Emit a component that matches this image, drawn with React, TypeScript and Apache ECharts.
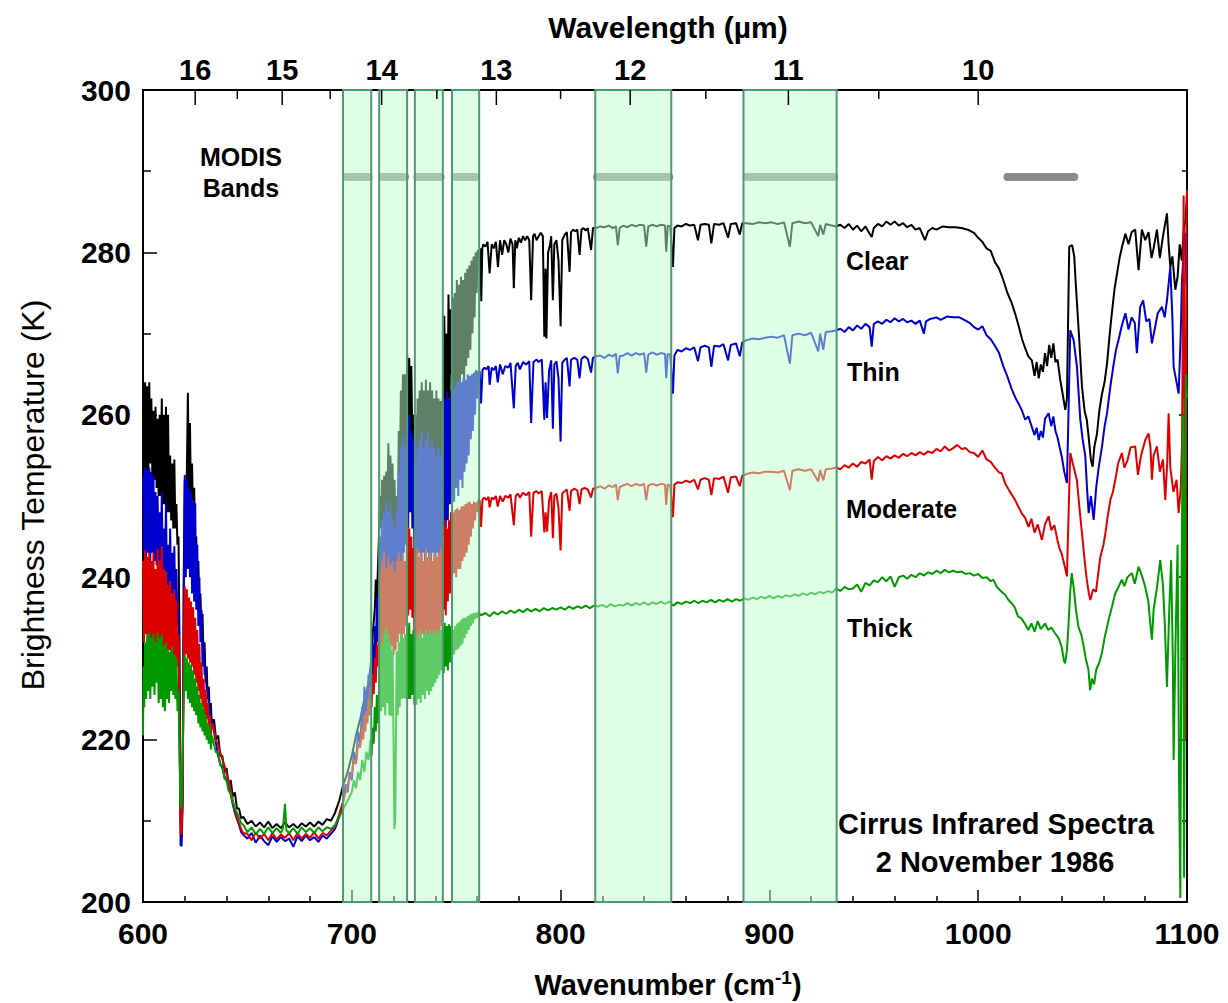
import React, { useEffect, useRef } from "react";
import * as echarts from "echarts";

const FONT = '"Liberation Sans", Arial, Helvetica, sans-serif';

// Wavenumber (cm-1), brightness temperature (K) pairs, flattened
const clearFlat = [
600,262, 600.5,252, 601,264, 601.5,253, 602,263.5, 602.5,252, 603,264, 603.5,254, 604,262, 604.5,252, 605,260.5, 605.5,252, 606,261, 606.5,251, 607,259.5, 607.5,250, 608,260, 608.5,250, 609,262, 609.5,249, 610,260, 610.5,249, 611,261, 611.5,248, 612,260, 612.5,248, 613,255, 613.5,247, 614,254, 614.5,246, 615,254.5, 615.5,246, 616,249, 616.5,244, 617,245, 617.5,232, 618,210, 618.5,208, 619,215, 619.5,240, 620,252, 620.5,246, 621,253, 621.5,262.7, 622,250, 622.5,259, 623,248, 623.5,254, 624,246, 624.5,251, 625,244, 625.5,245, 626,238, 626.5,242, 627,236, 627.5,238, 628,233, 628.5,235.5, 629,230, 629.5,232, 630,227, 630.5,229, 631,225, 631.5,226.5, 632,223, 632.5,224.5, 633,221.5, 634,222.5, 635,220, 636,220.5, 637,218, 638,218, 639,216, 640,216.5, 641,214.5, 642,215, 643,213, 644,213.5, 645,211.5, 646,211.5, 647,210.3, 648,210.5, 650,209.6, 652,210, 654,209.3, 656,209.8, 658,209.2, 660,209.9, 662,209.1, 664,209.6, 666,209.1, 668,209.8, 670,209.2, 672,209.6, 674,209.1, 676,209.7, 678,209.3, 680,209.8, 682,209.3, 684,209.9, 686,209.5, 688,210.2, 690,210, 692,211, 694,212.5, 696,214.5, 698,216, 700,218, 702,220.5, 704,222.5, 706,225, 708,227, 709,229, 710,233, 711,236, 711.5,239.7, 712,237, 712.5,241,
713,245, 713.5,250, 714,246, 714.5,252, 715,247, 715.5,252.5, 716,247, 716.5,253, 717,248, 717.5,256.5, 718,248, 718.5,255, 719,247, 719.5,254, 720,246, 720.5,252, 721,244, 721.5,250, 722,247, 722.5,258, 723,252, 723.5,263, 724,254, 724.5,265, 725,255, 725.5,265, 726,256, 726.5,267.4, 727,258, 727.5,267, 728,258, 728.5,266, 729,257, 729.5,260, 730,252,
730.5,260, 731,252, 731.5,262, 732,253, 732.5,263, 733,252, 733.5,264, 734,253, 734.5,263, 735,252, 735.5,264.3, 736,253, 736.5,263, 737,252, 737.5,264, 738,253, 738.5,263, 739,251, 739.5,262, 740,252, 740.5,263, 741,251, 741.5,262, 742,252, 742.5,261.7, 743,251, 743.5,262,
744,255, 744.3,272.2, 744.8,258, 745.3,270, 745.8,256, 746.3,274.8, 746.8,262, 747.3,273, 747.8,265,
748.3,274.4, 748.8,263, 749.3,275, 749.8,262, 750.3,276.6, 750.8,264, 751.3,276, 751.8,263, 752.3,277, 752.8,265, 753.3,276.6, 753.8,264, 754.3,277.5, 754.8,266, 755.3,278, 755.8,267, 756.3,278.4, 756.8,268, 757.3,279, 757.8,270, 758.3,279.5, 758.8,272, 759.3,280, 759.8,275, 760.3,280.3, 760.8,279,
761.5,280.5, 762,274, 762.5,280.5, 763,281, 764,280.7, 765,281.3, 766,277.4, 767,281, 768,280.5, 769,281.3, 770,278.2, 771,281.5, 772,279.7, 773,281.5, 774,281, 775,280, 776,281.7, 777,281, 777.6,275.6, 778.3,281.5, 779,280.5, 780,281.8, 781,281.2, 782,282, 783,281.5, 784,282, 785,281.5, 785.9,274.1, 786.8,282, 787.5,282.3, 788.5,281.5, 789.5,282, 790.5,282.4, 791.5,282, 792.2,269.6, 792.8,278, 793.2,269.4, 794,280, 795,281, 795.5,282, 796.3,274.1, 797,281, 798,281.5, 799,279, 800,270.9, 800.8,281.5, 802,282.2, 803,282.5, 804.3,277.6, 805,282.5, 806,282.8, 807,282.6, 808,282.8, 809.1,279.7, 810,282.8, 811,283, 812,282.7, 813,283, 814.6,280.3, 815.5,283,
817,283, 819,283.2, 821,283.1, 823,283.3, 825,283, 826.5,283.2, 827.4,280.9, 828.3,283, 830,283.3, 832,283.1, 834,283.4, 836,283.2, 838,283.4, 840,283.3, 841,280.7, 842,283.2, 844,283.4, 846,283.2, 848,283.4, 850,283.3, 850.6,280.1, 851.3,283.3, 852.5,283.2, 853.8,278.2, 854.5,283, 856,283.3, 858,283.2, 860,283.5, 862,283.3, 864,283.4, 865.8,281.5, 867,283.4, 869,283.5, 871,283.4, 872.2,281.1, 873.5,283.5, 876,283.4, 878,283.6, 880.2,281.8, 881.5,283.5, 884,283.6, 885.8,282.2, 887,283.6,
889,283.6, 892,283.5, 895,283.7, 898,283.6, 901,283.7, 904,283.5, 907,283.7, 909.8,280.7, 911,283.6, 914,283.8, 917,283.6, 920,283.7, 923.4,282, 924.3,283.4, 925.8,282.2, 927,283.5, 930,283.3, 932,283.2,
934,283.4, 936,283, 938,283.5, 940,282.8, 942,283.3, 944,282.6, 946,283.2, 948,282.3, 949,281.9, 950,283, 952,283.5, 954,283.2, 956,283.8, 958,283.4, 960,283.8, 962,283.3, 964,283.6, 966,283.1, 968,283.4, 970,282.8, 972,283, 974.5,281.5, 976,282.6, 978,283, 980,282.8, 983,283.2, 986,283.1, 989,283.1, 992,283, 995,282.8, 998,282.4, 1000,281.8, 1002,281.3, 1004,280.5, 1006,280.2, 1008,278.8, 1010,278, 1012,276.6, 1014,275, 1016,273.8, 1018,272.2, 1019.5,270.8, 1021,269.3, 1022.5,268.2, 1024,267.2, 1025.7,266.7, 1027,264.8, 1028,266.5, 1029,264.5, 1030,266.2, 1031,265.3, 1032,267.6, 1033,266, 1034,268.6, 1035,267, 1036,268.8, 1037,266.5, 1038,266.8, 1039.3,264.3, 1040.5,262.5, 1041.7,260.6, 1042.5,262, 1043.2,274, 1043.6,280.7, 1045,280.9, 1046,279.5, 1046.8,275.8, 1048.1,270.5, 1049.7,263.5, 1051,260.4, 1052,259.4, 1053,257, 1054,254.4, 1054.8,253.6, 1055.6,256, 1056.9,257.7, 1058,260.5, 1059.3,262.6, 1060.5,264, 1061.7,266.3, 1063,270, 1064,272.5, 1065.3,275.5, 1066.5,277.4, 1067.7,279.3, 1068.9,280.7, 1070.5,282.3, 1072,281, 1073.5,282.5, 1075.2,282.8, 1076.8,277.8, 1078.4,282.8, 1080,281.5, 1081.6,282.5, 1083,279.3, 1084,280.5, 1085.6,282.8, 1087,279.3, 1088.5,282, 1090.4,284.8, 1091.2,281, 1092,278.2, 1093,279.5, 1094.4,275.4, 1095.5,277, 1096.5,281, 1097.5,279, 1098.5,283, 1099.3,284, 1100,287,
];

const thinFlat = [
600,252.5, 600.5,243, 601,253.5, 601.5,242, 602,253, 602.5,243, 603,253.5, 603.5,242, 604,253, 604.5,243, 605,252.5, 605.5,242, 606,250.5, 606.5,241.5, 607,250, 607.5,242, 608,248, 608.5,241, 609,250.4, 609.5,240, 610,246, 610.5,240, 611,249, 611.5,239, 612,244, 612.5,238, 613,246, 613.5,238, 614,243, 614.5,237, 615,243.8, 615.5,236, 616,241, 616.5,234, 617,236, 617.5,222, 618,207, 618.5,206.9, 619,212, 619.5,236, 620,252.6, 620.5,240, 621,252, 621.5,241, 622,251, 622.5,240, 623,250.5, 623.5,238, 624,249.5, 624.5,237, 625,249.1, 625.5,236, 626,244, 626.5,234, 627,240, 627.5,232, 628,236, 628.5,229, 629,232, 629.5,228, 630,229, 630.5,226, 631,226.5, 631.5,224, 632,224, 632.5,222.5, 633,222.5, 634,221, 635,219.5, 636,218, 637,217, 638,216.5, 639,215.5, 640,215, 641,214.5, 642,213.3, 643,212, 644,211, 645,210.2, 646,209.5, 647,208.6, 648,208.3, 650,207.8, 652,208.5, 654,207.3, 656,208.2, 658,207.5, 660,207, 662,208.1, 664,207.4, 666,208, 668,207.5, 670,207.8, 672,206.8, 674,208.1, 676,207.5, 678,208.2, 680,207.6, 682,208, 684,207.4, 686,208.2, 688,207.8, 690,208.4, 692,209, 694,210.5, 696,212.5, 697,214.5, 698,213.5, 699,216, 700,215, 701,218.5, 702,217, 703,221, 704,219.5, 705,224, 705.5,221, 706,226.5, 706.5,222, 707,226, 707.5,223, 708,228, 708.5,224.5, 709,229, 709.5,226, 710,231.7, 710.5,228, 711,234, 711.5,230, 712,237.5, 712.5,232, 713,239,
713.5,245, 714,239, 714.5,247, 715,240, 715.5,248, 716,239.5, 716.5,249.3, 717,240, 717.5,248, 718,239, 718.5,249, 719,240, 719.5,247, 720,238.5, 720.5,246, 721,239, 721.5,248, 722,240, 722.5,253, 723,241, 723.5,256, 724,242, 724.5,257.3, 725,243, 725.5,256, 726,244, 726.5,258, 727,246, 727.5,260, 728,248, 728.5,258, 729,246, 729.5,257, 730,242,
730.5,254, 731,242, 731.5,256, 732,243, 732.5,257, 733,242, 733.5,258, 734,243, 734.5,256, 735,242, 735.5,257, 736,243, 736.5,258, 737,242.5, 737.5,256, 738,242, 738.5,257, 739,243, 739.5,256, 740,242, 740.5,255, 741,243, 741.5,256, 742,242.5, 742.5,255, 743,243, 743.5,256,
744,245, 744.5,262, 745,246, 745.5,262.9, 746,247, 746.5,262, 747,249, 747.5,263,
748,250, 748.5,263, 749,249.3, 749.5,263.5, 750,251, 750.5,264, 751,250, 751.5,264.3, 752,252, 752.5,264, 753,251, 753.5,264.5, 754,253, 754.5,264.3, 755,254, 755.5,265, 756,255, 756.5,264.8, 757,257, 757.5,265, 758,258, 758.5,265.2, 759,260, 759.5,265.5, 760,262, 760.5,265.3,
761.2,265.4, 761.9,261.4, 762.6,265.5, 763.5,265.8, 764.5,265.6, 765.5,266, 766,263.7, 767,265.8, 768,265.5, 769,266, 769.9,264, 771,266.2, 772.3,265, 773.5,266, 775,265.8, 776,266.4, 777.6,260.8, 778.5,266, 779.5,266.4, 780.5,265.6, 782,266.5, 783.5,266.2, 785,266.6, 785.9,259, 787,266.5, 788.5,266.8, 789.5,266.5, 791,266.8, 792.2,259.4, 792.8,264, 793.5,259.6, 794.5,265.5, 795.5,266.7, 796.3,258.3, 797,266.2, 798,266.6, 799,264.5, 800,256.7, 800.8,266.4, 802,266.8, 803,267, 804.3,263.5, 805,266.8, 806.5,267, 808,266.8, 809.1,264.5, 810,266.9, 811.5,267.2, 813,266.9, 814.6,265.2, 815.5,267,
817,267.2, 819,267.3, 821,267, 823,267.4, 825,267.2, 826.5,267.5, 827.4,265.1, 828.3,267.2, 830,267.3, 832,267.6, 834,267.3, 836,267.6, 838,267.4, 840,267.6, 841,265.2, 842,267.4, 844,267.7, 846,267.4, 848,267.6, 850,267.5, 850.6,264.5, 851.3,267.5, 852.5,267.4, 853.8,262.6, 854.5,267.3, 856,268, 858,267.8, 860,268.2, 862,268, 864,268.3, 865.8,266.6, 867,268.3, 869,268.5, 871,268.3, 872.2,265.9, 873.5,268.5, 876,268.4, 878,268.7, 880.2,266.7, 881.5,268.6, 884,268.8, 885.8,267.2, 887,268.9,
889,269.2, 892,269.4, 895,269.3, 898,269.5, 901,269.6, 904,269.5, 907,269.8, 909.8,266.3, 911,269.8, 914,270, 917,269.8, 920,270.1, 923.4,267.8, 924.3,270, 925.8,268, 927,270.2, 930,270.3, 932,270.4,
934,270.6, 936,270.2, 938,270.8, 940,270.4, 942,271, 944,270.6, 946,271.2, 948,270.8, 949,268.4, 950,271.2, 952,271.5, 954,271.2, 956,271.7, 958,271.4, 960,271.9, 962,271.5, 964,271.8, 966,271.4, 968,271.6, 970,271.2, 972,271.6, 974,270, 975,271.5, 977,271.8, 980,272, 982,271.7, 985,272.1, 988,272, 991,272, 994,271.6, 996,271.3, 998,270.8, 1000,270.5, 1002,270.9, 1004,269.8, 1006,269.3, 1008,268.5, 1010,267.6, 1012,266, 1014,264.7, 1016,263.2, 1018,262, 1019.3,261.4, 1021,260.5, 1022.5,259.4, 1024,259.8, 1025.7,258.5, 1027,257.5, 1028,258.4, 1029,256.9, 1030,258, 1031,257.2, 1032,259.5, 1033.7,260.2, 1035,258.6, 1036,259.8, 1037,258, 1038,257.2, 1039,256, 1040,254.9, 1041.2,253, 1042.5,251.6, 1043.4,262, 1044.1,270.4, 1045.7,269.2, 1047.3,265.9, 1048.9,259.4, 1050,257, 1051.3,254.9, 1052.1,251, 1052.9,247.9, 1054,250, 1055.3,247.05, 1056.5,251, 1057.7,253.5, 1059.3,256.1, 1060.5,258.5, 1061.7,260.2, 1063.3,263.5, 1064.9,266.3, 1066,268, 1067.2,269.2, 1068.8,271, 1070.5,272.5, 1072,270.5, 1073.5,272, 1075,271.3, 1076,267.6, 1077.6,273.3, 1079,274.1, 1080.5,271.5, 1082,271.8, 1083.2,268.8, 1084.5,270.5, 1086,272.5, 1088,273.3, 1089.3,272, 1090.4,274.1, 1092,278.2, 1093,272, 1093.6,265.9, 1095,264, 1096,262.6, 1097,270, 1097.6,276.6, 1098.4,280, 1099.2,282.4, 1099.7,276, 1100,280,
];

const moderateFlat = [
600,242, 600.5,232, 601,243.3, 601.5,233, 602,242.5, 602.5,232, 603,243, 603.5,232.5, 604,242, 604.5,232, 605,243, 605.5,231.5, 606,241, 606.5,232, 607,243.5, 607.5,232, 608,242, 608.5,231.5, 609,243.8, 609.5,231, 610,241, 610.5,231.5, 611,240.7, 611.5,231, 612,239, 612.5,231, 613,239.5, 613.5,230.5, 614,238, 614.5,230, 615,238.5, 615.5,230, 616,237.1, 616.5,229, 617,233, 617.5,222, 618,208.4, 618.5,208.4, 619,214, 619.5,232, 620,238.9, 620.5,230.5, 621,238.5, 621.5,230, 622,237.5, 622.5,229.5, 623,237, 623.5,229, 624,236.3, 624.5,228, 625,235, 625.5,227, 626,233.5, 626.5,226, 627,231.8, 627.5,225, 628,229.5, 628.5,224, 629,227.5, 629.5,223, 630,226.1, 630.5,222.5, 631,224.5, 631.5,221.5, 632,223, 632.5,220.5, 633,222, 634,221.3, 635,219.8, 636,219.4, 637,218.4, 638,217.6, 639,216.8, 640,215.8, 641,215, 642,213.8, 643,212.5, 644,211.3, 645,210.5, 646,209.7, 647,209, 648,208.5, 650,208.4, 652,207.6, 654,208.6, 656,207.8, 658,208.4, 660,207.6, 662,208.5, 664,207.7, 666,208.3, 668,207.9, 670,208.5, 672,207.6, 674,208.5, 676,207.8, 678,208.4, 680,207.9, 682,208.6, 684,207.8, 686,208.5, 688,208.2, 690,208.8, 692,209.3, 694,210.8, 696,212.5, 697,213.5, 698,214.5, 699,215.2, 700,215.8, 701,217.5, 702,217, 703,219.5, 704,219, 705,221.5, 705.5,220, 706,223, 706.5,221, 707,223.5, 707.5,222, 708,225, 708.5,223, 709,226.5, 709.5,224, 710,228, 710.5,225.6, 711,230, 711.5,227, 712,231.7, 712.5,229, 713,233,
713.5,240.5, 714,231, 714.5,242, 715,232, 715.5,243.2, 716,231.5, 716.5,241, 717,232, 717.5,242.5, 718,231, 718.5,241.5, 719,231.5, 719.5,242, 720,230.4, 720.5,240.5, 721,231, 721.5,242, 722,232, 722.5,243, 723,233, 723.5,242, 724,232, 724.5,243, 725,233, 725.5,242, 726,234, 726.5,247, 727,235.3, 727.5,246, 728,236, 728.5,245, 729,235, 729.5,243.6, 730,232,
730.5,243, 731,232, 731.5,243.6, 732,233, 732.5,242.5, 733,231.8, 733.5,243, 734,233, 734.5,242, 735,232, 735.5,243.5, 736,233, 736.5,242.5, 737,232, 737.5,243, 738,233, 738.5,242, 739,232, 739.5,243, 740,233, 740.5,242.5, 741,232.5, 741.5,243, 742,233, 742.5,243.3, 743,234, 743.5,244,
744,236, 744.5,247.1, 745,235.3, 745.5,246, 746,237, 746.5,247, 747,238, 747.5,248,
748,239.5, 748.5,248, 749,240.5, 749.5,248.3, 750,240, 750.5,248.5, 751,241, 751.5,248.3, 752,241, 752.5,248.7, 753,242, 753.5,248.8, 754,242.5, 754.5,249, 755,243, 755.5,249.2, 756,244, 756.5,249.3, 757,245, 757.5,249, 758,246, 758.5,249.3, 759,247, 759.5,249.2, 760,248, 760.5,249.4,
761.2,249.5, 761.9,246.2, 762.6,249.6, 763.5,249.8, 764.5,249.5, 765.5,249.9, 766,248.6, 767,249.8, 768,249.6, 769,250, 769.9,248.7, 771,250, 772.3,249.3, 773.5,250, 775,249.8, 776,250.2, 777.6,246.4, 778.5,250, 779.5,250.3, 780.5,249.8, 782,250.4, 783.5,250.1, 785,250.5, 785.9,245, 787,250.4, 788.5,250.6, 789.5,250.3, 791,250.6, 792.2,245.5, 792.8,248, 793.5,245.6, 794.5,249.5, 795.5,250.5, 796.3,244.8, 797,250, 798,250.3, 799,248.5, 800,243.3, 800.8,250.3, 802,250.6, 803,250.8, 804.3,248.2, 805,250.6, 806.5,250.9, 808,250.7, 809.1,249, 810,250.8, 811.5,251, 813,250.8, 814.6,249.8, 815.5,250.9,
817,251, 819,251.2, 821,250.9, 823,251.3, 825,251.1, 826.5,251.4, 827.4,249.5, 828.3,251.1, 830,251.3, 832,251.5, 834,251.2, 836,251.5, 838,251.3, 840,251.5, 841,249.5, 842,251.3, 844,251.5, 846,251.3, 848,251.5, 850,251.4, 850.6,248.9, 851.3,251.4, 852.5,251.3, 853.8,247.4, 854.5,251.4, 856,251.7, 858,251.6, 860,251.9, 862,251.7, 864,252, 865.8,250.8, 867,252, 869,252.2, 871,252, 872.2,250.1, 873.5,252.2, 876,252.1, 878,252.4, 880.2,250.4, 881.5,252.3, 884,252.4, 885.8,251.2, 887,252.5,
889,252.7, 892,252.9, 895,252.8, 898,253, 901,253, 904,252.9, 907,253.1, 909.8,250.7, 911,253.1, 914,253.3, 917,253.1, 920,253.3, 923.4,251.8, 924.3,253.2, 925.8,251.9, 927,253.3, 930,253.4, 932,253.5,
934,253.3, 936,253.8, 938,253.5, 940,254, 942,253.6, 944,254.2, 946,254, 948,254.5, 949,252, 950,254.3, 952,254.8, 954,254.4, 956,254.9, 958,254.6, 960,255, 962,254.7, 964,255.2, 966,254.9, 968,255.3, 970,255, 972,255.4, 974,255.1, 976,255.5, 978,255.3, 980,255.8, 982,255.5, 984,256.1, 986,255.6, 988,255.9, 990,256.3, 992,255.8, 994,255.9, 996,255.4, 998,255.3, 1000,254.8, 1002,255.6, 1004,254.5, 1006,254.2, 1008,253.5, 1010,252.9, 1011.3,252.8, 1013,251.5, 1015,250.6, 1017.7,249.5, 1019,248.8, 1021,247.8, 1022.5,247.3, 1024.1,246.2, 1025.5,247.2, 1027,245.5, 1028.5,246.5, 1030.5,244.6, 1032,246.5, 1033.7,247.5, 1035,245.8, 1036.5,246.4, 1038,244.5, 1039,243.5, 1040,242.9, 1041.3,241.5, 1042.5,240.1, 1043.3,248, 1044.1,255.3, 1045.7,253.6, 1047.3,251.9, 1048.5,248.5, 1049.7,245.4, 1051,242, 1052,239.7, 1053,238, 1053.7,237.2, 1055,238.5, 1056.4,238.2, 1057.5,240.5, 1058.5,242.5, 1060,244, 1060.9,245.4, 1062,247.5, 1063.3,249.5, 1064.5,250.5, 1065.6,251.9, 1067,254, 1068.8,255.3, 1070,253.5, 1071.5,254.4, 1073,256, 1075.2,256.1, 1076.5,252.6, 1078,255, 1080,256.9, 1081.6,257.7, 1082.5,256, 1083.2,252, 1084,255, 1085.6,256.1, 1087,253, 1088.5,254.5, 1089.6,249.5, 1090.5,254, 1091.2,260.2, 1092,253.5, 1093.5,250.5, 1095,252, 1096,247.9, 1097,251, 1097.6,256.1, 1098.4,287, 1098.9,250, 1099.3,220, 1099.7,283, 1100,287.7,
];

const thickFlat = [
600,220.5, 600.3,229, 600.6,224, 601,232, 601.5,225, 602,233, 602.5,226, 603,233.2, 603.5,225, 604,232.5, 604.5,226.5, 605,233, 605.5,225.5, 606,232, 606.5,227, 607,233.2, 607.5,224.5, 608,232.5, 608.5,225, 609,233, 609.5,224, 610,231.5, 610.5,223.5, 611,232, 611.5,225, 612,231, 612.5,224.5, 613,230.8, 613.5,226, 614,231.5, 614.5,225.5, 615,230.5, 615.5,225, 616,230, 616.5,223.5, 617,226, 617.5,218, 618,211.5, 618.5,212.5, 619,218, 619.5,225, 620,230.5, 620.5,226, 621,230, 621.5,225, 622,229.5, 622.5,224.5, 623,229.2, 623.5,224, 624,228.5, 624.5,223.5, 625,227.5, 625.5,223, 626,226.5, 626.5,222, 627,225.5, 627.5,221.5, 628,224.5, 628.5,221, 629,223.9, 629.5,220.5, 630,223, 630.5,220, 631,222, 631.5,219.5, 632,221.7, 632.5,218.8, 633,220.5, 634,219.4, 635,218.4, 636,218.5, 637,216.8, 638,216.8, 639,215.2, 640,215, 641,213.7, 642,213.3, 643,212.3, 644,211.5, 645,211, 646,210.4, 647,209.7, 648,209.5, 650,208.6, 652,209.2, 654,208.3, 656,209, 658,208.4, 660,209.2, 662,208.5, 664,209.1, 666,208.5, 667,209, 668,212.1, 668.7,208.8, 670,208.5, 672,209.1, 674,208.4, 676,209.2, 678,208.6, 680,209.1, 682,208.5, 684,209.2, 686,208.7, 688,209.2, 690,209, 692,209.5, 694,210.5, 696,211.5, 698,212.5, 700,213.5, 701,215, 702,214, 703,216, 704,215, 705,217.5, 706,216, 707,218.5, 708,217.5, 709,220, 709.5,218, 710,221.5, 710.5,219.5, 711,224, 711.5,221, 712,225.5, 712.5,222, 713,226,
713.5,231, 714,223.5, 714.5,232, 715,224, 715.5,233, 716,223, 716.5,234, 717,224.5, 717.5,233, 718,223, 718.5,232, 719,222.9, 719.5,231, 720,220, 720.4,209, 720.8,210, 721.2,222, 721.5,230.9, 722,223, 722.5,232, 723,224, 723.5,233, 724,225, 724.5,232.5, 725,225.1, 725.5,233, 726,225, 726.5,234, 727,225, 727.5,234.4, 728,225, 728.5,233, 729,225.5, 729.5,233.5, 730,224.3,
730.5,232, 731,224.3, 731.5,233, 732,225, 732.5,233.5, 733,224.5, 733.5,232.5, 734,225.5, 734.5,233, 735,225, 735.5,233.5, 736,226, 736.5,233, 737,225.5, 737.5,233.5, 738,226, 738.5,233, 739,226.5, 739.5,233.5, 740,227, 740.5,233, 741,227.5, 741.5,233.5, 742,228, 742.5,233.5, 743,228.5, 743.5,234,
744,228.2, 744.5,234.4, 745,229, 745.5,234, 746,228.5, 746.5,234.2, 747,229.5, 747.5,234,
748,230.4, 748.5,233.5, 749,230.5, 749.5,234, 750,231, 750.5,234.3, 751,231.2, 751.5,234.5, 752,231.5, 752.5,234.8, 753,231.8, 753.5,235, 754,232.5, 754.5,235, 755,233, 755.5,235.2, 756,233.5, 756.5,235.4, 757,234, 757.5,235.5, 758,234.3, 758.5,235.6, 759,234.8, 759.5,235.6, 760,235, 760.5,235.7,
762,235.3, 764,235.6, 766,235.2, 768,235.7, 770,235.4, 772,235.8, 774,235.5, 776,235.9, 778,235.6, 780,236, 782,235.7, 784,236.1, 786,235.8, 788,236.1, 790,235.8, 792,236.2, 794,235.9, 796,236.2, 798,236, 800,236.3, 802,236, 804,236.4, 806,236.1, 808,236.4, 810,236.2, 812,236.5, 814,236.2, 816,236.5,
818,236.4, 820,236.6, 822,236.3, 824,236.7, 826,236.4, 828,236.6, 830,236.5, 832,236.8, 834,236.5, 836,236.8, 838,236.6, 840,236.9, 842,236.6, 844,236.9, 846,236.7, 848,237, 850,236.7, 852,237,
854,236.5, 856,236.9, 858,236.7, 860,237, 862,236.8, 864,237.1, 866,236.8, 868,237.1, 870,236.9, 872,237.2, 874,236.9, 876,237.2, 878,237, 880,237.3, 882,237, 884,237.3, 886,237.1, 888,237.4,
890,237.2, 892,237.5, 894,237.3, 896,237.6, 898,237.4, 900,237.7, 902,237.4, 904,237.7, 906,237.5, 908,237.8, 910,237.6, 912,237.9, 914,237.7, 916,238, 918,237.8, 920,238.1, 922,237.9, 924,238.2, 926,238, 928,238.3, 930,238.1, 932,238.6,
934,238.3, 936,238.8, 938,238.5, 940,238.6, 942,239.1, 944,238.2, 946,239.3, 948,239, 950,239.6, 952,239.4, 954,240, 956,239.5, 958,240.1, 960,238.8, 962,240, 964,240.2, 966,239.8, 968,240.3, 970,240, 972,240.5, 974,240.2, 976,240.6, 978,240.4, 980,240.8, 982,240.5, 984,240.9, 986,240.6, 988,240.8, 990,240.6, 992,240.7, 994,240.4, 996,240.5, 998,240.2, 1000,240.4, 1002,239.9, 1004,240, 1006,239.5, 1007.2,239.7, 1009,238.8, 1011.2,238.2, 1013,237.8, 1014.5,237.2, 1016,236.8, 1017.5,236.3, 1019,235.2, 1020.8,234.9, 1022.5,234.2, 1024,233.5, 1025.5,234.3, 1027,233.3, 1028.5,234.6, 1030,233.6, 1032,234.3, 1033.5,233.5, 1035,233.8, 1036.8,233.1, 1038.5,232.5, 1040,231.4, 1041,229.8, 1041.6,229.4, 1042.5,231, 1043.2,233.9, 1044,238, 1044.8,240.5, 1045.8,238.6, 1046.8,236, 1048,233.9, 1049.5,232.8, 1050.5,231.5, 1051.5,230, 1052.8,228.6, 1053.6,226.1, 1054.5,227.5, 1055.5,226.8, 1056.5,228.6, 1058,229.5, 1059.2,230.6, 1060.5,232.5, 1062.4,234.7, 1064,236.3, 1065.6,238, 1067.2,238.8, 1068.8,239.7, 1070,238.9, 1071.5,240, 1073.6,240.5, 1075,239.2, 1076.8,241.3, 1078.4,240.2, 1080,238.8, 1081.5,237, 1082.5,234, 1083.2,232.3, 1084,236, 1085.5,238.5, 1087.2,242.1, 1088.5,239, 1089.4,234, 1090.4,226.5, 1091.5,236, 1092.4,242.1, 1093.2,230, 1093.6,217.5, 1094.5,232, 1095.5,244, 1096.2,215, 1096.8,200.5, 1097.4,240, 1098,260, 1098.6,203, 1099.2,255, 1099.6,265, 1100,262,
];

// Shaded MODIS band windows (cm-1)
const bandStarts = [695.8, 713.1, 730.2, 748.0, 816.6, 887.6];
const bandEnds = [709.3, 726.5, 743.6, 761.0, 853.0, 932.2];
// MODIS band bars at the top (cm-1)
const barStarts = [697.5, 714.5, 731.5, 749.5, 817.5, 889, 1014];
const barEnds = [708, 725.5, 742.5, 759.5, 852, 931, 1046];
const barLevel = 289.3;
// Top axis wavelength ticks (µm)
const wavelengthMajor = [16, 15, 14, 13, 12, 11, 10];
const wavelengthMinor = [15.5, 14.5, 13.5, 12.5, 11.5, 10.5];

const seriesNames = ["Clear", "Thin", "Moderate", "Thick"];
const seriesColors = ["#000000", "#0000cc", "#dd0000", "#009900"];

const toPairs = (a: number[]) => {
  const out: number[][] = [];
  for (let i = 0; i + 1 < a.length; i += 2) out.push([a[i], a[i + 1]]);
  return out;
};

const topTicks = [
  ...wavelengthMajor.map((w) => ({ wn: 1e4 / w, major: true, label: String(w) })),
  ...wavelengthMinor.map((w) => ({ wn: 1e4 / w, major: false, label: "" })),
];

export default function App() {
  const ref = useRef<HTMLDivElement>(null);
  useEffect(() => {
    if (!ref.current) return;
    const chart = echarts.init(ref.current, null, { renderer: "svg" });
    const flats = [clearFlat, thinFlat, moderateFlat, thickFlat];
    const lineSeries = flats.map((f, i) => ({
      name: seriesNames[i],
      type: "line",
      data: toPairs(f),
      showSymbol: false,
      symbol: "none",
      silent: true,
      z: 2,
      lineStyle: { color: seriesColors[i], width: 2 },
    }));
    const axisLbl = { color: "#000", fontSize: 30, fontWeight: "bold", fontFamily: FONT };
    const option: any = {
      animation: false,
      backgroundColor: "#ffffff",
      grid: { left: 143, top: 90, width: 1044, height: 812, containLabel: false },
      xAxis: [
        {
          type: "value", position: "bottom", min: 600, max: 1100, interval: 100,
          axisLine: { show: true, onZero: false, lineStyle: { color: "#000", width: 2 } },
          axisTick: { show: true, inside: true, length: 12, lineStyle: { color: "#000", width: 1.5 } },
          minorTick: { show: true, splitNumber: 5, length: 6, lineStyle: { color: "#000", width: 1.5 } },
          splitLine: { show: false },
          axisLabel: { ...axisLbl, margin: 16, formatter: (v: number) => String(v) },
        },
        {
          type: "value", position: "top", min: 600, max: 1100,
          axisLine: { show: true, onZero: false, lineStyle: { color: "#000", width: 2 } },
          axisTick: { show: false }, axisLabel: { show: false }, splitLine: { show: false },
        },
      ],
      yAxis: [
        {
          type: "value", position: "left", min: 200, max: 300, interval: 20,
          axisLine: { show: true, onZero: false, lineStyle: { color: "#000", width: 2 } },
          axisTick: { show: true, inside: true, length: 14, lineStyle: { color: "#000", width: 1.5 } },
          minorTick: { show: true, splitNumber: 2, length: 8, lineStyle: { color: "#000", width: 1.5 } },
          splitLine: { show: false },
          axisLabel: { ...axisLbl, margin: 12, formatter: (v: number) => String(v) },
        },
        {
          type: "value", position: "right", min: 200, max: 300, interval: 20,
          axisLine: { show: true, onZero: false, lineStyle: { color: "#000", width: 2 } },
          axisTick: { show: true, inside: true, length: 8, lineStyle: { color: "#000", width: 1.5 } },
          minorTick: { show: true, splitNumber: 2, length: 5, lineStyle: { color: "#000", width: 1.5 } },
          splitLine: { show: false }, axisLabel: { show: false },
        },
      ],
      series: [
        ...lineSeries,
        {
          type: "custom", name: "bars", z: 4, silent: true, clip: false,
          data: barStarts.map((s, i) => [s, barEnds[i], barLevel]),
          encode: { x: [0, 1], y: 2 },
          renderItem: (params: any, api: any) => {
            const a = api.coord([api.value(0), api.value(2)]);
            const b = api.coord([api.value(1), api.value(2)]);
            return {
              type: "line",
              shape: { x1: a[0], y1: a[1], x2: b[0], y2: b[1] },
              style: { stroke: "#8c8c8c", lineWidth: 8, lineCap: "round" },
            };
          },
        },
        {
          type: "custom", name: "bands", z: 6, silent: true, clip: false,
          data: bandStarts.map((s, i) => [s, bandEnds[i]]),
          encode: { x: [0, 1] },
          renderItem: (params: any, api: any) => {
            const a = api.coord([api.value(0), 300]);
            const b = api.coord([api.value(1), 200]);
            return {
              type: "rect",
              shape: { x: a[0], y: a[1], width: b[0] - a[0], height: b[1] - a[1] },
              style: { fill: "rgba(190,254,204,0.5)", stroke: "#4c9a70", lineWidth: 2 },
            };
          },
        },
        {
          type: "custom", name: "wavelength", z: 8, silent: true, clip: false,
          data: topTicks.map((t) => [t.wn, t.major ? 1 : 0]),
          encode: { x: 0 },
          renderItem: (params: any, api: any) => {
            const t = topTicks[params.dataIndex];
            const p = api.coord([t.wn, 300]);
            const len = t.major ? 15 : 9;
            const children: any[] = [
              { type: "line", shape: { x1: p[0], y1: p[1], x2: p[0], y2: p[1] + len }, style: { stroke: "#000", lineWidth: 1.5 } },
            ];
            if (t.major) {
              children.push({
                type: "text", x: p[0], y: p[1] - 20,
                style: { text: t.label, fill: "#000", font: `bold 29px ${FONT}`, align: "center", verticalAlign: "middle", textAlign: "center", textVerticalAlign: "middle" },
              });
            }
            return { type: "group", children };
          },
        },
      ],
      graphic: [
        { type: "text", x: 668, y: 27, z: 10, style: { text: "Wavelength (µm)", fill: "#000", font: `bold 30px ${FONT}`, align: "center", verticalAlign: "middle", textAlign: "center", textVerticalAlign: "middle" } },
        {
          type: "text", x: 668, y: 985, z: 10,
          style: {
            text: "{a|Wavenumber (cm}{s|-1}{a|)}",
            align: "center", verticalAlign: "middle", textAlign: "center", textVerticalAlign: "middle",
            rich: {
              a: { fontSize: 29, fontWeight: "bold", fontFamily: FONT, fill: "#000", color: "#000", lineHeight: 34 },
              s: { fontSize: 19, fontWeight: "bold", fontFamily: FONT, fill: "#000", color: "#000", lineHeight: 20, verticalAlign: "top" },
            },
          },
        },
        { type: "text", x: 33, y: 495, rotation: Math.PI / 2, z: 10, style: { text: "Brightness Temperature (K)", fill: "#000", font: `32px ${FONT}`, align: "center", verticalAlign: "middle", textAlign: "center", textVerticalAlign: "middle" } },
        { type: "text", x: 241, y: 157, z: 10, style: { text: "MODIS", fill: "#000", font: `bold 25px ${FONT}`, align: "center", verticalAlign: "middle", textAlign: "center", textVerticalAlign: "middle" } },
        { type: "text", x: 241, y: 188, z: 10, style: { text: "Bands", fill: "#000", font: `bold 25px ${FONT}`, align: "center", verticalAlign: "middle", textAlign: "center", textVerticalAlign: "middle" } },
        { type: "text", x: 846, y: 261, z: 10, style: { text: "Clear", fill: "#000", font: `bold 25px ${FONT}`, align: "left", verticalAlign: "middle", textAlign: "left", textVerticalAlign: "middle" } },
        { type: "text", x: 847, y: 372, z: 10, style: { text: "Thin", fill: "#000", font: `bold 25px ${FONT}`, align: "left", verticalAlign: "middle", textAlign: "left", textVerticalAlign: "middle" } },
        { type: "text", x: 846, y: 509, z: 10, style: { text: "Moderate", fill: "#000", font: `bold 25px ${FONT}`, align: "left", verticalAlign: "middle", textAlign: "left", textVerticalAlign: "middle" } },
        { type: "text", x: 847, y: 628, z: 10, style: { text: "Thick", fill: "#000", font: `bold 25px ${FONT}`, align: "left", verticalAlign: "middle", textAlign: "left", textVerticalAlign: "middle" } },
        { type: "text", x: 996, y: 824, z: 10, style: { text: "Cirrus Infrared Spectra", fill: "#000", font: `bold 29px ${FONT}`, align: "center", verticalAlign: "middle", textAlign: "center", textVerticalAlign: "middle" } },
        { type: "text", x: 995, y: 862, z: 10, style: { text: "2 November 1986", fill: "#000", font: `bold 29px ${FONT}`, align: "center", verticalAlign: "middle", textAlign: "center", textVerticalAlign: "middle" } },
      ],
    };
    chart.setOption(option);
    return () => chart.dispose();
  }, []);
  return (
    <div
      ref={ref}
      style={{ position: "absolute", left: 0, top: 0, width: 1228, height: 1003, background: "#fff" }}
    />
  );
}
